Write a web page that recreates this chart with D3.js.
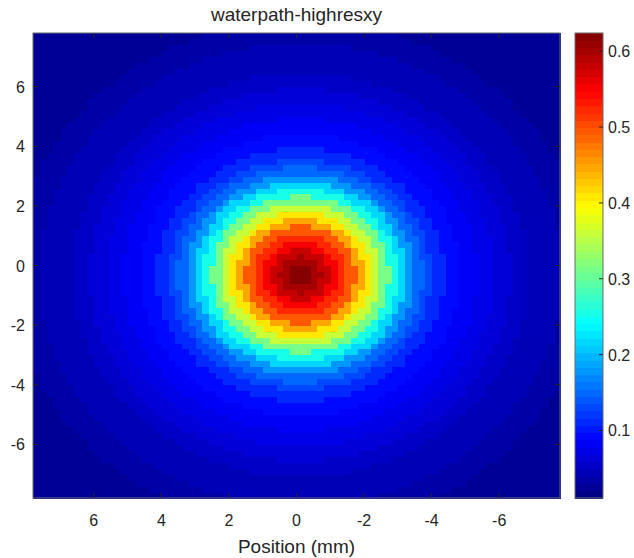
<!DOCTYPE html>
<html>
<head>
<meta charset="utf-8">
<script src="https://cdn.jsdelivr.net/npm/d3@7"></script>
<style>
  body { margin: 0; background: #fff; }
  text { font-family: "Liberation Sans", Arial, sans-serif; fill: #262626; }
</style>
</head>
<body>
<svg id="chart"></svg>
<script>
// tick labels
const xTicks = [6, 4, 2, 0, -2, -4, -6]
const yTicks = [6, 4, 2, 0, -2, -4, -6]
const cTicks = [0.1, 0.2, 0.3, 0.4, 0.5, 0.6]

// spot centre (mm)
const spotX = -0.1
const spotY = -0.3

// radial profile: ring edge (mm) -> value inside ring
const ringEdges = [0.125, 0.375, 0.625, 0.875, 1.125, 1.375, 1.625, 1.875, 2.125, 2.375,
    2.625, 2.875, 3.125, 3.375, 3.625, 3.875, 4.25, 4.75, 5.25, 5.75, 6.25, 6.75, 7.25,
    7.75, 8.5, 9.5]
const ringValues = [0.62, 0.615, 0.6, 0.58, 0.555, 0.525, 0.49, 0.45, 0.405, 0.36,
    0.31, 0.26, 0.215, 0.18, 0.15, 0.128, 0.112, 0.095, 0.082, 0.072, 0.064, 0.056,
    0.049, 0.042, 0.036, 0.028, 0.022]

const cellSize = 0.2
const extent = 7.8
const cMin = 0.011, cMax = 0.624

const margin = {top: 33, left: 33}
const plotW = 527, plotH = 465
const width = 634, height = 558

const svg = d3.select('#chart').attr('width', width).attr('height', height)

const xScale = d3.scaleLinear().domain([extent, -extent]).range([margin.left, margin.left + plotW])
const yScale = d3.scaleLinear().domain([extent, -extent]).range([margin.top, margin.top + plotH])
const ring = d3.scaleThreshold().domain(ringEdges).range(ringValues)

// MATLAB jet, 64 levels
function jet(v) {
    let t = (v - cMin) / (cMax - cMin)
    t = Math.max(0, Math.min(63, Math.floor(t * 64)))
    t = (t + 0.5) / 64
    const c = x => Math.round(255 * Math.max(0, Math.min(1, 1.5 - Math.abs(4 * t - x))))
    return `rgb(${c(3)},${c(2)},${c(1)})`
}

// build cell table
const centres = d3.range(-extent + cellSize / 2, extent, cellSize)
const cells = []
centres.forEach(cy => centres.forEach(cx => {
    const r = Math.hypot(cx - spotX, cy - spotY)
    cells.push({x: cx, y: cy, v: ring(r)})
}))

const plot = svg.append('g')
plot.selectAll('rect.cell')
    .data(cells)
    .join('rect')
    .attr('class', 'cell')
    .attr('x', d => xScale(d.x + cellSize / 2))
    .attr('y', d => yScale(d.y + cellSize / 2))
    .attr('width', xScale(-cellSize) - xScale(0) + 0.5)
    .attr('height', yScale(-cellSize) - yScale(0) + 0.5)
    .attr('fill', d => jet(d.v))
    .attr('shape-rendering', 'crispEdges')

// axes with inward ticks
const axisCol = '#6b6b6b'
const tickLen = 5
const axes = svg.append('g')
axes.append('rect')
    .attr('x', margin.left).attr('y', margin.top)
    .attr('width', plotW).attr('height', plotH)
    .attr('fill', 'none').attr('stroke', axisCol).attr('stroke-width', 1)

xTicks.forEach(t => {
    const x = xScale(t)
    axes.append('line').attr('x1', x).attr('x2', x)
        .attr('y1', margin.top + plotH).attr('y2', margin.top + plotH - tickLen)
        .attr('stroke', '#262626')
    axes.append('line').attr('x1', x).attr('x2', x)
        .attr('y1', margin.top).attr('y2', margin.top + tickLen)
        .attr('stroke', '#262626')
    axes.append('text').attr('x', x).attr('y', margin.top + plotH + 28)
        .attr('text-anchor', 'middle').style('font-size', '16px').text(t)
})
yTicks.forEach(t => {
    const y = yScale(t)
    axes.append('line').attr('x1', margin.left).attr('x2', margin.left + tickLen)
        .attr('y1', y).attr('y2', y).attr('stroke', '#262626')
    axes.append('line').attr('x1', margin.left + plotW).attr('x2', margin.left + plotW - tickLen)
        .attr('y1', y).attr('y2', y).attr('stroke', '#262626')
    axes.append('text').attr('x', margin.left - 8).attr('y', y + 6)
        .attr('text-anchor', 'end').style('font-size', '16px').text(t)
})

svg.append('text').attr('x', margin.left + plotW / 2).attr('y', 21)
    .attr('text-anchor', 'middle').style('font-size', '19px').text('waterpath-highresxy')
svg.append('text').attr('x', margin.left + plotW / 2).attr('y', 553)
    .attr('text-anchor', 'middle').style('font-size', '19px').text('Position (mm)')

// colorbar
const cb = {x: 575, w: 28}
const cScale = d3.scaleLinear().domain([cMin, cMax]).range([margin.top + plotH, margin.top])
const levels = d3.range(64).map(i => cMin + (i + 0.5) * (cMax - cMin) / 64)
const cbG = svg.append('g')
cbG.selectAll('rect')
    .data(levels)
    .join('rect')
    .attr('x', cb.x)
    .attr('y', d => cScale(d + (cMax - cMin) / 128))
    .attr('width', cb.w)
    .attr('height', plotH / 64 + 0.6)
    .attr('fill', d => jet(d))
    .attr('shape-rendering', 'crispEdges')
cbG.append('rect')
    .attr('x', cb.x).attr('y', margin.top).attr('width', cb.w).attr('height', plotH)
    .attr('fill', 'none').attr('stroke', axisCol)
cTicks.forEach(t => {
    const y = cScale(t)
    cbG.append('line').attr('x1', cb.x + cb.w).attr('x2', cb.x + cb.w - 4)
        .attr('y1', y).attr('y2', y).attr('stroke', '#262626')
    cbG.append('text').attr('x', cb.x + cb.w + 5).attr('y', y + 6)
        .style('font-size', '16px').text(t)
})
</script>
</body>
</html>
